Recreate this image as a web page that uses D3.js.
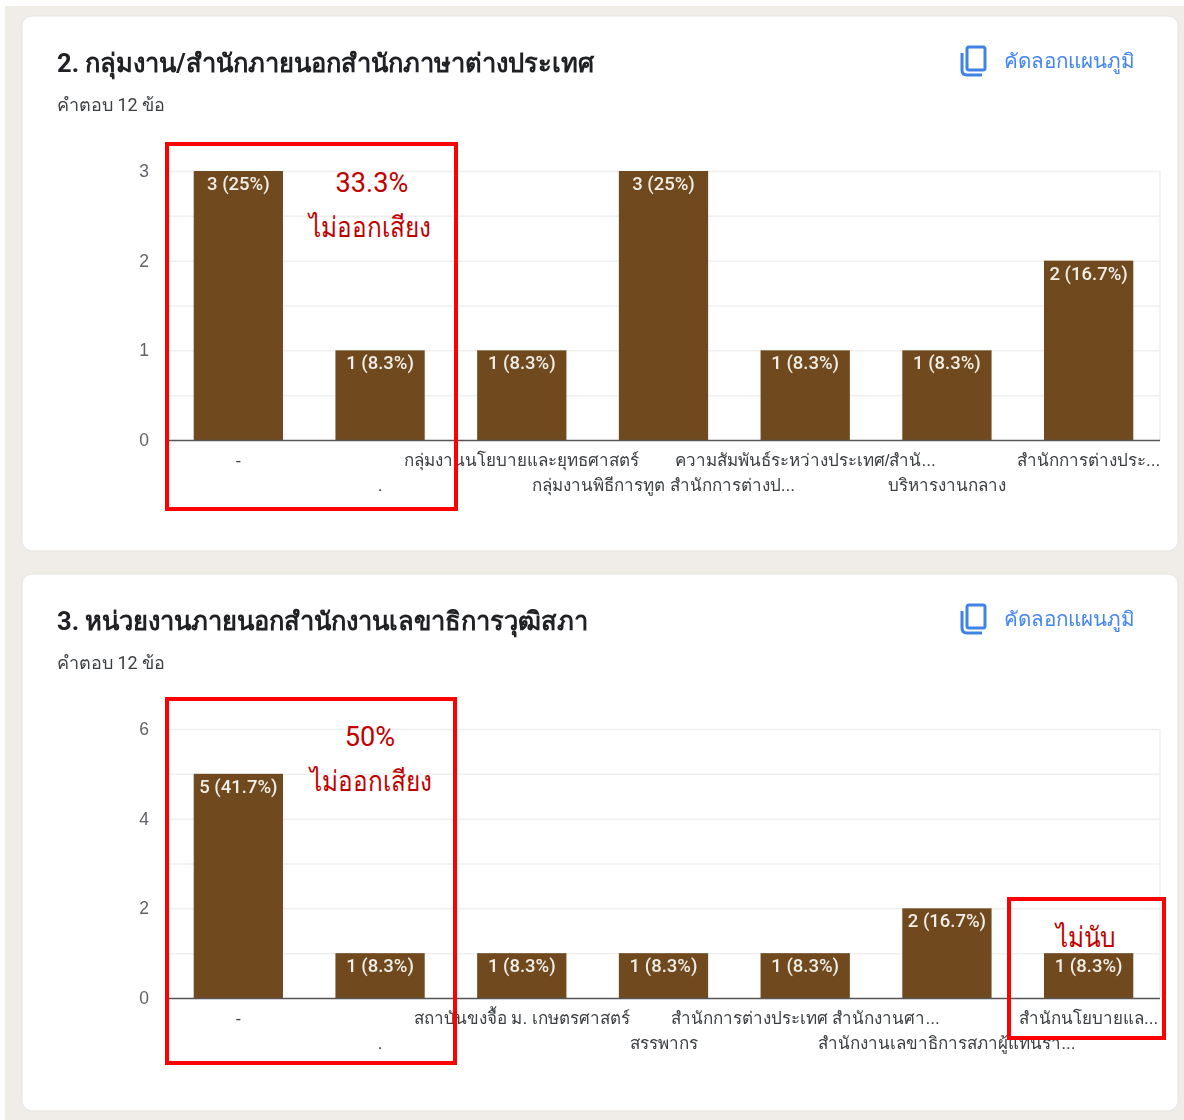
<!DOCTYPE html>
<html>
<head>
<meta charset="utf-8">
<script src="https://cdn.jsdelivr.net/npm/d3@7"></script>
<style>
body { margin: 0; background: #fff; }
svg { display: block; font-family: Roboto, "Liberation Sans", "Noto Sans", sans-serif; }
</style>
</head>
<body>
<svg width="1184" height="1120"></svg>
<script>
const svg = d3.select('svg')
const total = 12

const title1 = '2. กลุ่มงาน/สำนักภายนอกสำนักภาษาต่างประเทศ'
const cats1 = ['-', '.', 'กลุ่มงานนโยบายและยุทธศาสตร์', 'กลุ่มงานพิธีการทูต สำนักการต่างป...', 'ความสัมพันธ์ระหว่างประเทศ/สำนั...', 'บริหารงานกลาง', 'สำนักการต่างประ...']
const values1 = [3, 1, 1, 3, 1, 1, 2]
const ticks1 = [0, 1, 2, 3]
const grid1 = [0.5, 1, 1.5, 2, 2.5, 3]
const rows1 = [0, 1, 0, 1, 0, 1, 0]

const title2 = '3. หน่วยงานภายนอกสำนักงานเลขาธิการวุฒิสภา'
const cats2 = ['-', '.', 'สถาบันขงจื้อ ม. เกษตรศาสตร์', 'สรรพากร', 'สำนักการต่างประเทศ สำนักงานศา...', 'สำนักงานเลขาธิการสภาผู้แทนรา...', 'สำนักนโยบายแล...']
const values2 = [5, 1, 1, 1, 1, 2, 1]
const ticks2 = [0, 2, 4, 6]
const grid2 = [1, 2, 3, 4, 5, 6]
const rows2 = [0, 1, 0, 1, 0, 1, 0]

svg.append('rect').attr('x', 5).attr('y', 6).attr('width', 1179).attr('height', 1114).attr('fill', '#f0ede9')

function drawCard(top, cardH, title, cats, values, ticks, grid, rows, yMax) {
    const g = svg.append('g')
        .attr('transform', `translate(0,${top})`)
        .style('filter', 'blur(0.35px)')
    g.append('rect')
        .attr('x', 22).attr('y', 0)
        .attr('width', 1156).attr('height', cardH)
        .attr('rx', 10)
        .attr('fill', '#fff')
        .attr('stroke', '#e6e3df')

    g.append('text').text(title)
        .attr('x', 57).attr('y', 56)
        .attr('font-size', 25.5).attr('font-weight', 700)
        .attr('fill', '#202124')
    g.append('text').text(`คำตอบ ${total} ข้อ`)
        .attr('x', 57).attr('y', 95)
        .attr('font-size', 18)
        .attr('fill', '#3c4043')

    // copy icon
    g.append('rect')
        .attr('x', 967).attr('y', 31).attr('width', 18).attr('height', 23).attr('rx', 2)
        .attr('fill', 'none').attr('stroke', '#3f83e6').attr('stroke-width', 3)
    g.append('path')
        .attr('d', 'M962,37 V54 Q962,59 967,59 H982')
        .attr('fill', 'none').attr('stroke', '#3f83e6').attr('stroke-width', 3)
    g.append('text').text('คัดลอกแผนภูมิ')
        .attr('x', 1004).attr('y', 52)
        .attr('font-size', 20.6).attr('font-weight', 500)
        .attr('fill', '#4285f4')

    const x = d3.scaleBand().domain(d3.range(cats.length)).range([167.5, 1159.5]).paddingInner(0.37).paddingOuter(0.185)
    const y = d3.scaleLinear().domain([0, yMax]).range([424, 155])

    const gridAxis = d3.axisLeft(y).tickValues(grid).tickSize(-992).tickFormat('')
    const gg = g.append('g').attr('transform', 'translate(168,0)').call(gridAxis)
    gg.select('.domain').remove()
    gg.selectAll('line').attr('stroke', '#efefef').attr('stroke-width', 1.5)
    g.append('line')
        .attr('x1', 1160).attr('x2', 1160).attr('y1', y(yMax)).attr('y2', y(0))
        .attr('stroke', '#efefef').attr('stroke-width', 1.5)

    const yAxis = g.append('g').attr('transform', 'translate(152,0)')
        .call(d3.axisLeft(y).tickValues(ticks).tickSize(0).tickFormat(d3.format('d')))
    yAxis.select('.domain').remove()
    yAxis.selectAll('text').attr('font-size', 17.5).attr('fill', '#5f6368')

    g.selectAll('.bar').data(values).join('rect')
        .attr('class', 'bar')
        .attr('x', (d, i) => x(i))
        .attr('y', d => y(d))
        .attr('width', x.bandwidth())
        .attr('height', d => y(0) - y(d))
        .attr('fill', '#704a1e')

    g.selectAll('.val').data(values).join('text')
        .attr('class', 'val')
        .attr('x', (d, i) => x(i) + x.bandwidth() / 2)
        .attr('y', d => y(d) + 19)
        .attr('text-anchor', 'middle')
        .attr('font-size', 18.5)
        .attr('font-weight', 500)
        .attr('fill', '#f2efe9')
        .text(d => `${d} (${+(d / total * 100).toFixed(1)}%)`)

    const xAxis = g.append('g').attr('transform', `translate(0,${y(0)})`)
        .call(d3.axisBottom(x).tickSize(0).tickFormat(i => cats[i]))
    xAxis.select('.domain').attr('stroke', '#555').attr('stroke-width', 1.5)
    xAxis.selectAll('text')
        .attr('y', i => rows[i] ? 51 : 26)
        .attr('dy', 0)
        .attr('font-size', 17)
        .attr('fill', '#3c4043')
}

drawCard(16, 535, title1, cats1, values1, ticks1, grid1, rows1, 3)
drawCard(574, 537, title2, cats2, values2, ticks2, grid2, rows2, 6)

function redBox(x, y, w, h) {
    svg.append('rect')
        .attr('x', x).attr('y', y).attr('width', w).attr('height', h)
        .attr('fill', 'none').attr('stroke', '#ff0000').attr('stroke-width', 4)
}
function redText(t, x, y, sx) {
    svg.append('text').text(t)
        .attr('transform', `translate(${x},${y}) scale(${sx},1)`)
        .attr('text-anchor', 'middle')
        .attr('font-size', 28)
        .attr('fill', '#c00000')
}
redBox(167, 144, 289, 365)
redBox(167, 699, 288, 364)
redBox(1009, 899, 155, 139)
redText('33.3%', 372, 192, 0.97)
redText('ไม่ออกเสียง', 370, 237, 0.87)
redText('50%', 370, 746, 0.97)
redText('ไม่ออกเสียง', 371, 791, 0.87)
redText('ไม่นับ', 1086, 947, 0.87)
</script>
</body>
</html>
